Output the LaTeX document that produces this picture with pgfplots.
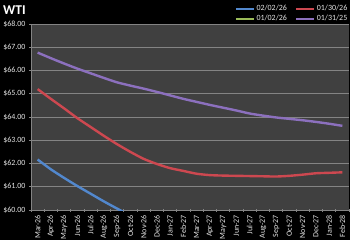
\documentclass[border=0pt]{standalone}
\usepackage{fontspec}
\setmainfont{Carlito}
\usepackage{pgfplots}
\pgfplotsset{compat=1.18}
\definecolor{bgplot}{RGB}{64,64,64}
\definecolor{gridc}{RGB}{132,132,132}
\definecolor{txtc}{RGB}{228,228,228}
\definecolor{cblue}{RGB}{82,136,206}
\definecolor{cred}{RGB}{205,72,80}
\definecolor{cgreen}{RGB}{155,187,89}
\definecolor{cpurple}{RGB}{140,112,190}
\begin{document}
\begin{tikzpicture}
\fill[black] (0,0) rectangle (350bp,240bp);
\begin{axis}[
  at={(31bp,30bp)}, anchor=south west,
  scale only axis, width=318bp, height=186bp,
  xmin=-0.5, xmax=23.5, ymin=60, ymax=68,
  ytick={60,61,...,68},
  xtick={0,1,...,23},
  xticklabels={Mar-26,Apr-26,May-26,Jun-26,Jul-26,Aug-26,Sep-26,Oct-26,Nov-26,Dec-26,Jan-27,Feb-27,Mar-27,Apr-27,May-27,Jun-27,Jul-27,Aug-27,Sep-27,Oct-27,Nov-27,Dec-27,Jan-28,Feb-28},
  minor xtick={-0.5,0.5,...,23.5},
  major x tick style={draw=none},
  tick align=outside,
  major tick length=3bp, minor tick length=3bp,
  tick style={gridc, line width=0.6pt},
  axis background/.style={fill=bgplot},
  axis x line=bottom, axis y line=left,
  axis line style={-, gridc, line width=0.8pt},
  ymajorgrids, grid style={gridc, line width=0.8pt},
  /pgf/number format/assume math mode=true,
  yticklabel={\$\pgfmathprintnumber[fixed,fixed zerofill,precision=2]{\tick}},
  ticklabel style={font=\fontsize{8}{8.5}\selectfont, text=txtc},
  xticklabel style={rotate=90, anchor=east},
  yticklabel style={xshift=-0.5bp},
  legend columns=2,
  legend style={at={(1,1)}, anchor=south east, yshift=0bp, draw=none, fill=none,
    font=\fontsize{8}{8.5}\selectfont, text=txtc, inner sep=0pt,
    nodes={inner sep=1.5bp},
    /tikz/every even column/.append style={column sep=7bp}, row sep=0bp},
  legend image code/.code={\draw[#1, line width=2pt] (0bp,0bp) -- (18bp,0bp);},
  every axis plot/.append style={line width=2.4pt, smooth, tension=0.4},
]
\addplot[cblue] coordinates {(0,62.17) (1,61.75) (2,61.38) (3,61.03) (4,60.70) (5,60.37) (6,60.06) (7,59.76)};
\addlegendentry{02/02/26}
\addplot[cred] coordinates {(0,65.20) (1,64.78) (2,64.37) (3,63.95) (4,63.57) (5,63.19) (6,62.83) (7,62.50) (8,62.20) (9,61.98) (10,61.80) (11,61.68) (12,61.56) (13,61.50) (14,61.48) (15,61.47) (16,61.46) (17,61.45) (18,61.44) (19,61.47) (20,61.52) (21,61.58) (22,61.60) (23,61.62)};
\addlegendentry{01/30/26}
\addlegendimage{cgreen}
\addlegendentry{01/02/26}
\addplot[cpurple] coordinates {(0,66.77) (1,66.53) (2,66.30) (3,66.08) (4,65.88) (5,65.68) (6,65.49) (7,65.35) (8,65.22) (9,65.08) (10,64.93) (11,64.78) (12,64.65) (13,64.52) (14,64.40) (15,64.28) (16,64.15) (17,64.06) (18,63.98) (19,63.92) (20,63.86) (21,63.79) (22,63.71) (23,63.62)};
\addlegendentry{01/31/25}
\end{axis}
\node[anchor=base west, font=\fontsize{13.5}{14}\selectfont\bfseries, text=white, inner sep=0pt] at (3bp,225bp) {WTI};
\pgfresetboundingbox
\useasboundingbox (0,0) rectangle (350bp,240bp);
\end{tikzpicture}
\end{document}
